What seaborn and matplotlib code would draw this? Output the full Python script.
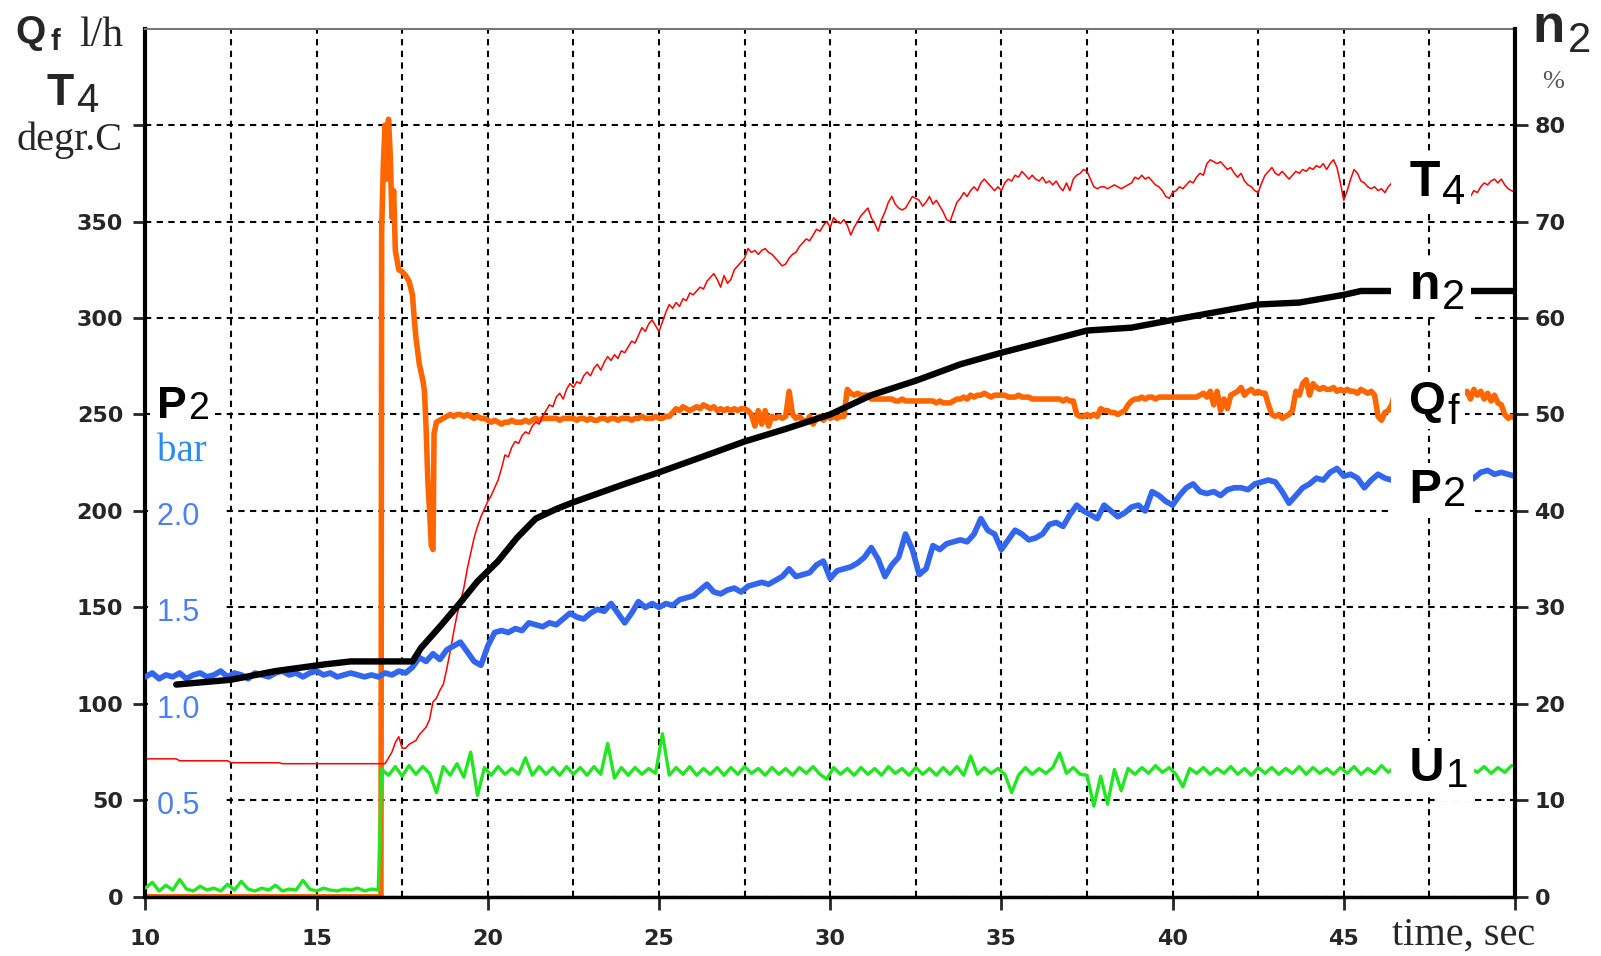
import numpy as np
import matplotlib
matplotlib.use("Agg")
import matplotlib.pyplot as plt
import seaborn as sns

# ---------------- data ----------------
# T4 exhaust temperature, degr.C (left axis)
T4_t_pre = [10.0, 10.9, 11.0, 12.4, 12.5, 13.9, 14.0, 16.95]
T4_v_pre = [71.5, 71.5, 70.5, 70.5, 69.5, 69.5, 69.0, 69.0]
T4_start, T4_step = 17.0, 0.1
T4_v = [
    69, 72, 75, 80, 83, 77, 77, 79, 80, 81,
    84, 86, 88, 92, 101, 103, 107, 110, 118, 127,
    137, 146, 153, 160, 170, 178, 186, 192, 197, 201,
    205, 208, 212, 216, 222, 229, 228, 233, 236, 235,
    239, 241, 240, 244, 246, 245, 249, 252, 255, 254,
    259, 261, 258, 263, 266, 264, 267, 266, 270, 272,
    270, 274, 276, 273, 277, 280, 278, 281, 279, 283,
    282, 285, 288, 287, 291, 295, 293, 297, 299, 296,
    293, 298, 303, 307, 305, 308, 306, 310, 309, 313,
    312, 314, 316, 315, 319, 321, 323, 320, 316, 322,
    318, 320, 325, 327, 329, 331, 336, 334, 335, 333,
    335, 336, 334, 333, 331, 329, 327, 328, 331, 333,
    334, 337, 339, 341, 340, 343, 346, 345, 348, 350,
    347, 352, 350, 349, 351, 348, 343, 347, 350, 353,
    355, 357, 352, 349, 345, 351, 355, 360, 363, 359,
    357, 356, 357, 360, 363, 362, 361, 358, 360, 363,
    359, 361, 358, 355, 351, 350, 355, 360, 362, 365,
    363, 366, 368, 366, 370, 372, 370, 368, 366, 368,
    366, 370, 372, 371, 374, 373, 376, 374, 372, 374,
    372, 371, 373, 370, 371, 369, 371, 368, 366, 370,
    366, 372, 374, 375, 377, 376, 372, 368, 367, 368,
    368, 367, 368, 369, 368, 367, 368, 369, 370, 373,
    372, 374, 372, 373, 371, 369, 368, 366, 363, 362,
    365, 366, 368, 367, 369, 371, 370, 373, 375, 374,
    380, 382, 381, 380, 381, 379, 377, 378, 375, 373,
    375, 371, 369, 368, 366, 365, 370, 374, 376, 378,
    375, 374, 376, 374, 372, 374, 376, 375, 377, 376,
    378, 377, 379, 378, 380, 377, 380, 382, 378, 370,
    361, 366, 372, 377, 375, 371, 370, 368, 367, 368,
    366, 367, 365, 368, 370, 368, 367, 368, 369, 368,
    369, 367, 368, 366, 367, 365, 366, 365, 366, 365,
    366, 364, 362, 360, 358, 359, 361, 363, 366, 365,
    368, 370, 369, 371, 372, 370, 372, 369, 367, 366,
    365,
]

# Qf fuel flow, l/h (left axis)
Qf_t_pre = [10.0, 16.88, 16.9, 16.95, 17.0, 17.05, 17.1, 17.15, 17.2, 17.25,
            17.3, 17.4, 17.5, 17.6, 17.7, 17.8, 17.85, 17.9, 18.0, 18.1,
            18.15, 18.2, 18.25, 18.3, 18.35, 18.4, 18.43]
Qf_v_pre = [0, 0, 345, 380, 400, 372, 403, 385, 352, 366,
            335, 325, 324, 322, 319, 312, 300, 290, 276, 268,
            262, 242, 215, 200, 182, 180, 240]
Qf_start, Qf_step = 18.5, 0.1
Qf_v = [
    246, 247, 248, 249, 250,
    249, 250, 250, 249, 250, 249, 248, 249, 248, 248,
    247, 246, 247, 246, 245, 246, 246, 247, 246, 246,
    246, 247, 246, 247, 248, 247, 248, 248, 248, 248,
    248, 247, 248, 248, 248, 248, 247, 248, 248, 247,
    248, 247, 247, 248, 248, 247, 248, 248, 247, 248,
    248, 248, 247, 248, 248, 249, 248, 248, 248, 249,
    248, 248, 249, 249, 251, 253, 252, 254, 253, 252,
    253, 254, 253, 255, 254, 253, 254, 252, 253, 252,
    253, 252, 253, 252, 253, 253, 252, 250, 244, 252,
    245, 252, 244, 249, 248, 249, 248, 249, 262, 250,
    248, 249, 247, 246, 249, 245, 248, 249, 247, 249,
    248, 249, 248, 249, 249, 263, 261, 260, 261, 260,
    260, 260, 258, 258, 258, 258, 258, 258, 258, 257,
    257, 258, 257, 257, 257, 257, 257, 257, 257, 257,
    257, 256, 257, 256, 256, 256, 257, 258, 258, 259,
    258, 260, 259, 260, 260, 261, 260, 259, 260, 260,
    260, 260, 259, 259, 259, 260, 259, 259, 259, 258,
    258, 258, 258, 258, 258, 258, 258, 258, 257, 258,
    257, 257, 250, 249, 249, 250, 249, 250, 249, 253,
    252, 252, 251, 251, 250, 251, 252, 255, 257, 258,
    258, 259, 258, 259, 259, 258, 259, 259, 259, 259,
    259, 259, 259, 259, 259, 259, 259, 259, 260, 261,
    259, 262, 255, 262, 252, 258, 253, 260, 261, 262,
    264, 260, 262, 263, 261, 262, 261, 261, 255, 250,
    249, 250, 248, 249, 250, 252, 262, 260, 266, 268,
    260, 266, 264, 263, 264, 263, 263, 264, 262, 263,
    262, 263, 262, 262, 261, 263, 262, 261, 262, 260,
    249, 247, 251, 252, 255, 262, 260, 259, 258, 260,
    260, 259, 260, 259, 260, 260, 259, 260, 259, 260,
    260, 259, 260, 261, 260, 261, 262, 258, 263, 260,
    262, 258, 261, 257, 260, 256, 255, 250, 248, 249,
    248,
]

# n2 turbine speed, % (right axis)
n2_t = [10.9, 12.5, 13.8, 15.25, 16.0, 17.8, 18.05, 18.6, 19.15, 19.7,
        20.3, 20.85, 21.4, 22.0, 22.5, 24.0, 25.0, 26.1, 27.5, 28.7,
        30.0, 31.2, 32.5, 33.8, 35.0, 37.5, 38.8, 40.0, 42.5, 43.7,
        45.0, 45.5, 50.0]
n2_v = [22.0, 22.5, 23.4, 24.1, 24.4, 24.4, 25.8, 28.0, 30.3, 32.7,
        34.8, 37.2, 39.2, 40.2, 40.9, 42.8, 44.0, 45.4, 47.2, 48.5,
        50.0, 52.0, 53.5, 55.2, 56.4, 58.7, 59.0, 59.8, 61.4, 61.6,
        62.4, 62.8, 62.8]

# P2 pressure, bar
P2_start, P2_step = 10.0, 0.2
P2_v = [
    1.14, 1.16, 1.13, 1.15, 1.14, 1.16, 1.13, 1.15, 1.16, 1.14,
    1.15, 1.17, 1.14, 1.16, 1.15, 1.13, 1.16, 1.15, 1.14, 1.16,
    1.17, 1.15, 1.16, 1.14, 1.16, 1.17, 1.15, 1.16, 1.14, 1.15,
    1.16, 1.15, 1.14, 1.15, 1.14, 1.16, 1.15, 1.17, 1.16, 1.19,
    1.24, 1.22, 1.26, 1.23, 1.28, 1.30, 1.32, 1.27, 1.22, 1.20,
    1.30, 1.37, 1.38, 1.37, 1.39, 1.38, 1.42, 1.41, 1.40, 1.42,
    1.41, 1.44, 1.47, 1.45, 1.44, 1.47, 1.49, 1.48, 1.52, 1.47,
    1.42, 1.47, 1.53, 1.50, 1.52, 1.50, 1.52, 1.51, 1.54, 1.55,
    1.56, 1.59, 1.62, 1.58, 1.57, 1.59, 1.60, 1.58, 1.61, 1.62,
    1.63, 1.62, 1.64, 1.66, 1.70, 1.66, 1.67, 1.68, 1.72, 1.74,
    1.65, 1.69, 1.70, 1.71, 1.73, 1.76, 1.81, 1.75, 1.66, 1.72,
    1.76, 1.88, 1.80, 1.67, 1.70, 1.82, 1.80, 1.83, 1.84, 1.85,
    1.84, 1.88, 1.96, 1.90, 1.88, 1.80, 1.85, 1.90, 1.88, 1.85,
    1.86, 1.88, 1.93, 1.94, 1.92, 1.98, 2.03, 2.00, 1.98, 1.96,
    2.03, 2.00, 1.97, 1.99, 2.02, 2.03, 2.00, 2.10, 2.08, 2.05,
    2.03, 2.08, 2.12, 2.14, 2.10, 2.09, 2.10, 2.08, 2.11, 2.12,
    2.12, 2.11, 2.14, 2.15, 2.16, 2.15, 2.10, 2.04, 2.08, 2.12,
    2.14, 2.17, 2.16, 2.20, 2.22, 2.18, 2.19, 2.17, 2.12, 2.16,
    2.19, 2.17, 2.16, 2.17, 2.18, 2.17, 2.16, 2.17, 2.18, 2.17,
    2.17, 2.16, 2.18, 2.15, 2.17, 2.20, 2.21, 2.19, 2.20, 2.19,
    2.18,
]

# U1 control signal, % (right axis)
U1_pre_start, U1_step = 10.0, 0.2
U1_pre_v = [
    0.9, 1.5, 0.6, 1.2, 0.7, 1.8, 0.8, 0.6, 1.1, 0.7,
    0.9, 0.6, 1.3, 0.7, 1.6, 0.8, 0.6, 0.9, 0.7, 1.2,
    0.6, 0.8, 0.7, 1.7, 0.8, 0.6, 0.9, 0.7, 0.6, 0.8,
    0.7, 0.9, 0.6, 0.8, 0.7,
]
U1_post_start = 16.9
U1_post_v = [
    13.2, 12.6, 13.5, 12.5, 13.6, 12.7, 13.5, 12.8, 10.8, 13.5,
    12.6, 13.8, 12.4, 15.0, 10.5, 13.4, 12.6, 13.5, 12.7, 13.3,
    12.7, 14.4, 12.6, 13.5, 12.7, 13.4, 12.6, 13.5, 12.7, 13.4,
    12.6, 13.5, 12.7, 15.9, 12.3, 13.4, 12.6, 13.4, 12.7, 13.3,
    12.8, 16.9, 12.6, 13.4, 12.7, 13.5, 12.6, 13.3, 12.7, 13.4,
    12.6, 13.4, 12.7, 13.5, 12.8, 13.3, 12.6, 13.4, 12.7, 13.3,
    12.6, 13.4, 12.8, 13.5, 12.7, 12.2, 13.4, 12.7, 13.3, 12.6,
    13.4, 12.7, 13.3, 12.6, 13.5, 12.8, 13.3, 12.6, 13.4, 12.7,
    13.3, 12.6, 13.4, 12.7, 13.5, 12.6, 14.6, 12.7, 13.4, 12.8,
    13.3, 12.7, 10.8, 12.6, 13.4, 12.7, 13.3, 12.8, 13.4, 14.9,
    12.8, 13.4, 12.7, 12.6, 9.4, 12.5, 9.6, 13.2, 11.0, 13.3,
    12.7, 13.4, 12.8, 13.6, 12.9, 13.4, 12.7, 11.4, 13.3, 12.8,
    13.4, 12.7, 13.3, 12.8, 13.5, 12.7, 13.3, 12.6, 13.4, 12.8,
    13.4, 12.7, 13.3, 12.8, 13.5, 12.7, 13.4, 12.8, 13.3, 12.7,
    13.4, 12.8, 13.5, 12.7, 13.3, 12.8, 13.6, 12.9, 13.5, 13.8,
    12.9, 13.5, 12.8, 13.4, 12.9, 13.5, 12.8, 13.4, 12.9, 13.3,
    12.9, 13.5, 12.8, 13.4, 12.9, 13.6,
]

x_ticks = [10, 15, 20, 25, 30, 35, 40, 45, 50]
x_ticklabels = ["10", "15", "20", "25", "30", "35", "40", "45", ""]
left_ticks = [0, 50, 100, 150, 200, 250, 300, 350, 400]
left_ticklabels = ["0", "50", "100", "150", "200", "250", "300", "350", ""]
right_ticks = [0, 10, 20, 30, 40, 50, 60, 70, 80]
p2_ticks = [2.0, 1.5, 1.0, 0.5]
p2_ticklabels = ["2.0", "1.5", "1.0", "0.5"]

# ---------------- build series ----------------
T4_t = np.concatenate([T4_t_pre, T4_start + T4_step * np.arange(len(T4_v))])
T4_y = np.concatenate([T4_v_pre, T4_v])
Qf_t = np.concatenate([Qf_t_pre, Qf_start + Qf_step * np.arange(len(Qf_v))])
Qf_y = np.concatenate([Qf_v_pre, Qf_v])
P2_t = P2_start + P2_step * np.arange(len(P2_v))
U1_t = np.concatenate([U1_pre_start + U1_step * np.arange(len(U1_pre_v)),
                       U1_post_start + U1_step * np.arange(len(U1_post_v))])
U1_y = np.concatenate([U1_pre_v, U1_post_v])

# ---------------- style ----------------
sns.set_style("white")
plt.rcParams["font.family"] = ["DejaVu Sans"]

SANS = "Liberation Sans"
SERIF = "Liberation Serif"

fig = plt.figure(figsize=(16.01, 9.56), dpi=100)
L, B = 145.4 / 1601, 1 - 896.8 / 956
W, H = (1515 - 145.4) / 1601, (896.8 - 28.6) / 956
ax = fig.add_axes([L, B, W, H])
ax_p = ax.twinx()
ax_r = ax.twinx()

# ---------------- lines ----------------
sns.lineplot(x=Qf_t, y=Qf_y, ax=ax, color="#ff6600", linewidth=4.0,
             estimator=None, sort=False, errorbar=None)
sns.lineplot(x=T4_t, y=T4_y, ax=ax, color="#ff0000", linewidth=1.1,
             estimator=None, sort=False, errorbar=None)
sns.lineplot(x=P2_t, y=P2_v, ax=ax_p, color="#3366ee", linewidth=4.1,
             estimator=None, sort=False, errorbar=None)
sns.lineplot(x=U1_t, y=U1_y, ax=ax_r, color="#22e622", linewidth=2.4,
             estimator=None, sort=False, errorbar=None)
sns.lineplot(x=n2_t, y=n2_v, ax=ax_r, color="black", linewidth=4.6,
             estimator=None, sort=False, errorbar=None)

# ---------------- axes ----------------
ax.set_xlim(10, 50)
ax.set_ylim(0, 450)
ax_p.set_ylim(0, 4.5)
ax_r.set_ylim(0, 90)
for a in (ax, ax_p, ax_r):
    a.set_xlabel("")
    a.set_ylabel("")

ax.set_xticks(x_ticks)
ax.set_xticklabels(x_ticklabels)
ax.set_xticks(np.arange(12.5, 50, 5), minor=True)
ax.set_yticks(left_ticks)
ax.set_yticklabels(left_ticklabels)
grid_kw = dict(color="black", linestyle=(0, (3, 2.6)), linewidth=1.5)
ax.grid(True, which="both", axis="x", **grid_kw)
ax.grid(True, which="major", axis="y", **grid_kw)
ax.set_axisbelow(True)
ax.tick_params(axis="x", which="minor", length=0)
ax.tick_params(axis="x", which="major", direction="out", length=9, width=2,
               pad=14, labelsize=16, bottom=True)
ax.tick_params(axis="y", direction="out", length=9, width=2, pad=7,
               labelsize=16, left=True, right=False)

ax_r.set_yticks(right_ticks)
ax_r.tick_params(axis="y", direction="out", length=9, width=2, pad=5,
                 labelsize=16, right=True)
ax_p.set_yticks([])
ax_p.tick_params(right=False, labelright=False)

for lab in ax.get_xticklabels() + ax.get_yticklabels() + ax_r.get_yticklabels():
    lab.set_fontweight("bold")

for s in ("left", "bottom"):
    ax.spines[s].set_color("black")
ax.spines["left"].set_linewidth(3)
ax.spines["bottom"].set_linewidth(2.5)
ax.spines["top"].set_color("#777777")
ax.spines["top"].set_linewidth(1.5)
ax.spines["right"].set_visible(False)
for s in ax_p.spines.values():
    s.set_visible(False)
for s in ("left", "top", "bottom"):
    ax_r.spines[s].set_visible(False)
ax_r.spines["right"].set_color("black")
ax_r.spines["right"].set_linewidth(3)

# ---------------- blue P2 scale labels ----------------
for v, lab in zip(p2_ticks, p2_ticklabels):
    ax.text(10.34, v - 0.03, lab + "  ", transform=ax_p.transData, ha="left",
            va="center", fontsize=22, family=SANS, color="#4d80f0", zorder=3,
            bbox=dict(boxstyle="square,pad=0.3", fc="white", ec="none"))


# ---------------- label helper (letter + subscript, white backing) -------------
def letter_label(host, x, y, trans, main, sub, fs_main, fs_sub, dy,
                 pad=0.1, sub_pad=0.15, color="black", sub_weight="normal", z=10):
    for layer in (0, 1):
        tc = "white" if layer == 0 else color
        bb_main = dict(boxstyle=f"square,pad={pad}", fc="white", ec="none") if layer == 0 else None
        bb_sub = dict(boxstyle=f"square,pad={sub_pad}", fc="white", ec="none") if layer == 0 else None
        t = host.text(x, y, main, transform=trans, fontsize=fs_main,
                      fontweight="bold", family=SANS, ha="left", va="baseline",
                      color=tc, bbox=bb_main, zorder=z + 2 * layer)
        host.annotate(sub, xy=(1, 0), xycoords=t, xytext=(1, dy),
                      textcoords="offset points", ha="left", va="bottom",
                      fontsize=fs_sub, family=SANS, fontweight=sub_weight,
                      color=tc, bbox=bb_sub, zorder=z + 2 * layer)


# left P2 / bar
letter_label(ax, 10.34, 248, ax.transData, "P", "2", 32, 27, 0, pad=0.15, z=3)
ax.text(10.34, 226, "bar ", fontsize=28, family=SERIF, color="#2a8cf0",
        ha="left", va="baseline", zorder=3,
        bbox=dict(boxstyle="square,pad=0.15", fc="white", ec="none"))

# right-side series labels (leading space gives the gap before the letter)
XL = 46.52
letter_label(ax_r, XL, 363, ax.transData, " T", "4", 36, 30, -5)
letter_label(ax_r, XL, 310, ax.transData, " n", "2", 36, 30, -7)
letter_label(ax_r, XL, 250, ax.transData, " Q", "f", 34, 30, -6.5)
letter_label(ax_r, XL, 204, ax.transData, " P", "2", 35, 30, -1)
letter_label(ax_r, XL, 60, ax.transData, " U", "1", 35, 29, -3)


# ---------------- figure-level texts ----------------
def fx(px):
    return px / 1601


def fy(py):
    return 1 - py / 956


fig.text(fx(15), fy(43), "Q", fontsize=28, fontweight="bold", family=SANS, va="baseline")
fig.text(fx(50), fy(50), "f", fontsize=21, fontweight="bold", family=SANS, va="baseline")
fig.text(fx(79), fy(46), "l/h", fontsize=30, family=SERIF, va="baseline")
fig.text(fx(46), fy(105), "T", fontsize=32, fontweight="bold", family=SANS, va="baseline")
fig.text(fx(76), fy(112), "4", fontsize=29, family=SANS, va="baseline")
fig.text(fx(16), fy(150), "degr.C", fontsize=29, family=SERIF, va="baseline")

fig.text(fx(1532), fy(42), "n", fontsize=38, fontweight="bold", family=SANS, va="baseline")
fig.text(fx(1568), fy(52), "2", fontsize=30, family=SANS, va="baseline")
fig.text(fx(1542), fy(88), "%", fontsize=19, family=SERIF, color="#555555", va="baseline")

fig.text(fx(1392), fy(945), "time, sec", fontsize=29, family=SERIF, va="baseline")

fig.savefig("out.png", dpi=100, facecolor="white")
